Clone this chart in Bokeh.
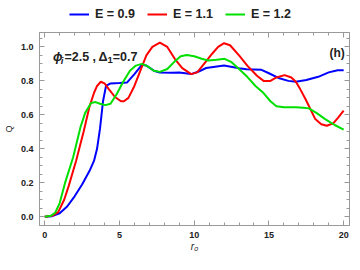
from bokeh.plotting import figure
from bokeh.layouts import column
from bokeh.models import (Range1d, LinearAxis, Legend, LegendItem, Label,
                          FixedTicker, NumeralTickFormatter)
from bokeh.embed import file_html
from bokeh.resources import INLINE

# ---- data ----
x_blue = [0, 0.5, 1.0, 1.5, 2.0, 2.5, 3.0, 3.3, 3.5, 3.7, 3.9, 4.1, 4.4, 5.0, 5.5,
          6.0, 6.5, 6.8, 7.3, 7.7, 8.5, 9.0, 9.8, 10.3, 10.8, 12.0, 13.0, 13.5,
          14.5, 15.0, 15.7, 16.3, 16.8, 17.5, 18.3, 19.0, 19.6, 20.0]
y_blue = [0, 0.003, 0.02, 0.06, 0.12, 0.19, 0.27, 0.33, 0.40, 0.52, 0.68, 0.77,
          0.785, 0.787, 0.79, 0.84, 0.895, 0.89, 0.86, 0.849, 0.848, 0.849, 0.84,
          0.855, 0.876, 0.89, 0.875, 0.868, 0.865, 0.845, 0.815, 0.80, 0.795,
          0.805, 0.824, 0.85, 0.863, 0.862]

x_red = [0, 0.5, 0.9, 1.3, 1.6, 2.1, 2.6, 3.0, 3.3, 3.5, 3.75, 4.0, 4.3, 4.7, 5.1,
         5.3, 5.6, 6.0, 6.4, 6.8, 7.2, 7.7, 8.2, 8.7, 9.2, 9.8, 10.2, 10.7, 11.2,
         11.6, 12.0, 12.4, 13.0, 13.55, 14.2, 14.64, 15.1, 15.5, 16.05, 16.5,
         16.8, 17.1, 17.46, 18.1, 18.5, 18.87, 19.3, 19.63, 20.0]
y_red = [0, 0.005, 0.027, 0.10, 0.18, 0.33, 0.50, 0.65, 0.73, 0.77, 0.795, 0.785,
         0.75, 0.705, 0.68, 0.68, 0.70, 0.77, 0.86, 0.95, 1.0, 1.026, 1.0, 0.93,
         0.875, 0.84, 0.85, 0.905, 0.96, 1.0, 1.022, 1.01, 0.95, 0.89, 0.83,
         0.80, 0.80, 0.82, 0.834, 0.82, 0.795, 0.75, 0.69, 0.575, 0.545, 0.536,
         0.55, 0.584, 0.625]

x_green = [0, 0.4, 0.7, 1.0, 1.35, 1.9, 2.4, 2.7, 3.1, 3.4, 3.7, 4.06, 4.4, 4.8,
           5.25, 5.7, 6.1, 6.5, 6.9, 7.3, 7.7, 8.2, 8.7, 9.1, 9.5, 10.0, 10.5,
           10.94, 11.5, 12.03, 12.5, 13.0, 13.55, 14.1, 14.64, 15.1, 15.5, 16.0,
           16.8, 17.3, 17.67, 18.2, 18.76, 19.4, 20.0]
y_green = [0, 0.005, 0.023, 0.08, 0.196, 0.35, 0.53, 0.61, 0.67, 0.675, 0.665,
           0.657, 0.665, 0.72, 0.795, 0.86, 0.89, 0.90, 0.885, 0.86, 0.853, 0.87,
           0.915, 0.945, 0.953, 0.945, 0.93, 0.92, 0.925, 0.93, 0.91, 0.87,
           0.824, 0.77, 0.728, 0.68, 0.651, 0.645, 0.645, 0.642, 0.638, 0.61,
           0.575, 0.54, 0.513]

labels = ["E = 0.9", "E = 1.1", "E = 1.2"]
colors = ["#0000ff", "#ff0000", "#00e000"]

x_ticks = [0, 5, 10, 15, 20]
y_ticks = [0.0, 0.2, 0.4, 0.6, 0.8, 1.0]
x_minor = list(range(0, 21))
y_minor = [round(i * 0.05, 2) for i in range(22)]

series_x = [x_blue, x_red, x_green]
series_y = [y_blue, y_red, y_green]

FONT = "Liberation Sans"
TICK_COL = "#999999"
LAB_COL = "#222222"
W = 350

# ---- legend strip above the plot (its lines lie outside its view) ----
top = figure(width=W, height=26, output_backend="svg", toolbar_location=None,
             x_axis_location=None, y_axis_location=None, min_border=0,
             x_range=Range1d(0, 1), y_range=Range1d(10, 11))
top.outline_line_color = None
top.grid.visible = False
top.border_fill_color = "white"
top.background_fill_color = "white"
proxies = [top.line(xs, ys, line_color=c, line_width=2)
           for xs, ys, c in zip(series_x, series_y, colors)]
leg = Legend(items=[LegendItem(label=l, renderers=[r]) for l, r in zip(labels, proxies)],
             orientation="horizontal", location=(30, 5),
             label_text_font=FONT, label_text_font_style="bold",
             label_text_font_size="12.5px", label_text_color=LAB_COL,
             glyph_width=20, glyph_height=14, label_standoff=6, spacing=12,
             padding=0, margin=0, border_line_color=None,
             background_fill_alpha=0)
top.add_layout(leg, "center")

# ---- main plot ----
p = figure(width=W, height=228, output_backend="svg", toolbar_location=None,
           x_range=Range1d(-0.35, 20.39), y_range=Range1d(-0.052, 1.085),
           min_border_left=37, min_border_right=1, min_border_top=6,
           min_border_bottom=28, x_axis_location=None, y_axis_location=None)
p.grid.visible = False
p.outline_line_color = TICK_COL
p.background_fill_color = "white"
p.border_fill_color = "white"

def style(ax):
    ax.axis_line_color = TICK_COL
    ax.major_tick_line_color = TICK_COL
    ax.minor_tick_line_color = TICK_COL
    ax.major_tick_in = 5
    ax.major_tick_out = 0
    ax.minor_tick_in = 3
    ax.minor_tick_out = 0
    ax.major_label_text_font = FONT
    ax.major_label_text_font_style = "bold"
    ax.major_label_text_color = LAB_COL
    ax.major_label_text_font_size = "9px"

xb = LinearAxis(ticker=FixedTicker(ticks=x_ticks, minor_ticks=x_minor))
style(xb)
xb.major_label_standoff = 6
xb.axis_label = "r₀"
xb.axis_label_text_font = FONT
xb.axis_label_text_font_style = "italic"
xb.axis_label_text_font_size = "10px"
xb.axis_label_text_color = LAB_COL
xb.axis_label_standoff = 0
p.add_layout(xb, "below")

xt = LinearAxis(ticker=FixedTicker(ticks=x_ticks, minor_ticks=x_minor))
style(xt)
xt.major_label_overrides = {t: "" for t in x_ticks}
xt.major_label_standoff = 0
p.add_layout(xt, "above")

yl = LinearAxis(ticker=FixedTicker(ticks=y_ticks, minor_ticks=y_minor),
                formatter=NumeralTickFormatter(format="0.0"))
style(yl)
yl.major_label_standoff = 6
yl.axis_label = "Q"
yl.axis_label_text_font = FONT
yl.axis_label_text_font_style = "normal"
yl.axis_label_text_font_size = "9px"
yl.axis_label_text_color = LAB_COL
yl.axis_label_standoff = 4
p.add_layout(yl, "left")

yr = LinearAxis(ticker=FixedTicker(ticks=y_ticks, minor_ticks=y_minor))
style(yr)
yr.major_label_overrides = {t: "" for t in y_ticks}
yr.major_label_standoff = 0
p.add_layout(yr, "right")

for xs, ys, c in zip(series_x, series_y, colors):
    p.line(xs, ys, line_color=c, line_width=2)

ann = dict(text_font=FONT, text_color=LAB_COL, text_baseline="alphabetic")
p.add_layout(Label(x=0.55, y=0.942, text="ϕ", text_font_size="12.5px",
                   text_font_style="bold italic", **ann))
p.add_layout(Label(x=1.08, y=0.922, text="i", text_font_size="9.5px",
                   text_font_style="bold italic", **ann))
p.add_layout(Label(x=1.32, y=0.942, text="=2.5 ,", text_font_size="12.5px",
                   text_font_style="bold", **ann))
p.add_layout(Label(x=3.6, y=0.942, text="Δ", text_font_size="12.5px",
                   text_font_style="bold", **ann))
p.add_layout(Label(x=4.2, y=0.922, text="1", text_font_size="9.5px",
                   text_font_style="bold", **ann))
p.add_layout(Label(x=4.55, y=0.942, text="=0.7", text_font_size="12.5px",
                   text_font_style="bold", **ann))
p.add_layout(Label(x=19.05, y=0.963, text="(h)", text_font_size="12px",
                   text_font_style="bold", **ann))

open("out.html", "w").write(file_html(column(top, p, spacing=0), INLINE))
